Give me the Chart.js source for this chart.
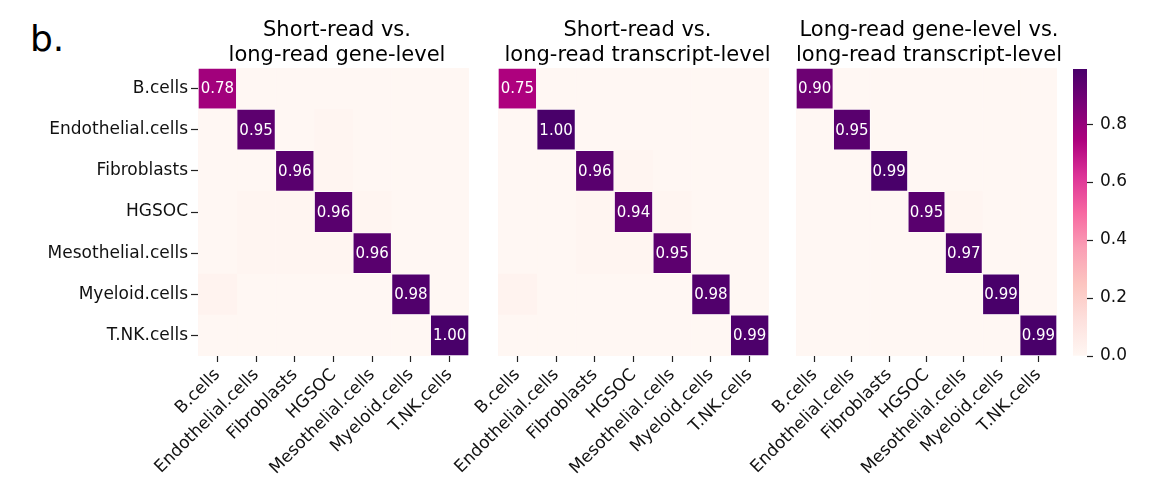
<!DOCTYPE html>
<html><head><meta charset="utf-8">
<script src="https://cdn.jsdelivr.net/npm/chart.js@4.4.1/dist/chart.umd.min.js"></script>
<style>
html,body{margin:0;padding:0;background:#fff;width:1153px;height:491px;overflow:hidden;position:relative;}
canvas{position:absolute;top:0;}
#lbl{position:absolute;left:30px;top:21px;font:36px/36px 'DejaVu Sans';color:#000;}
</style></head><body>
<div id="lbl">b.</div>
<canvas id="c1"></canvas>
<canvas id="c2"></canvas>
<canvas id="c3"></canvas>
<canvas id="cb"></canvas>
<script>
// ---- data ----
const categories = ['B.cells','Endothelial.cells','Fibroblasts','HGSOC','Mesothelial.cells','Myeloid.cells','T.NK.cells'];
const titles1 = ['Short-read vs.','long-read gene-level'];
const titles2 = ['Short-read vs.','long-read transcript-level'];
const titles3 = ['Long-read gene-level vs.','long-read transcript-level'];
const matrix1 = [
  [0.78,0.00,0.00,0.00,0.00,0.00,0.00],
  [0.00,0.95,0.00,0.01,0.00,0.00,0.00],
  [0.00,0.00,0.96,0.01,0.00,0.00,0.00],
  [0.00,0.01,0.01,0.96,0.01,0.00,0.00],
  [0.00,0.01,0.01,0.01,0.96,0.00,0.00],
  [0.02,0.00,0.00,0.00,0.00,0.98,0.00],
  [0.00,0.00,0.00,0.00,0.00,0.00,1.00]
];
const matrix2 = [
  [0.75,0.00,0.00,0.00,0.00,0.00,0.00],
  [0.00,1.00,0.00,0.00,0.00,0.00,0.00],
  [0.00,0.00,0.96,0.01,0.00,0.00,0.00],
  [0.00,0.00,0.01,0.94,0.01,0.00,0.00],
  [0.00,0.00,0.01,0.01,0.95,0.00,0.00],
  [0.02,0.00,0.00,0.00,0.00,0.98,0.00],
  [0.00,0.00,0.00,0.00,0.00,0.00,0.99]
];
const matrix3 = [
  [0.90,0.00,0.00,0.00,0.00,0.00,0.00],
  [0.00,0.95,0.00,0.00,0.00,0.00,0.00],
  [0.00,0.00,0.99,0.00,0.00,0.00,0.00],
  [0.00,0.00,0.00,0.95,0.01,0.00,0.00],
  [0.00,0.00,0.00,0.00,0.97,0.00,0.00],
  [0.00,0.00,0.00,0.00,0.00,0.99,0.00],
  [0.00,0.00,0.00,0.00,0.00,0.00,0.99]
];
const colorbarTicks = [0.0,0.2,0.4,0.6,0.8];
const rdpu = ['#fff7f3','#fde0dd','#fcc5c0','#fa9fb5','#f768a1','#dd3497','#ae017e','#7a0177','#49006a'];

// ---- helpers ----
const FONT = "'DejaVu Sans'";
function hex(c){return [parseInt(c.slice(1,3),16),parseInt(c.slice(3,5),16),parseInt(c.slice(5,7),16)];}
function cmap(t){
  t=Math.max(0,Math.min(1,t));
  const p=t*(rdpu.length-1), i=Math.min(Math.floor(p),rdpu.length-2), f=p-i;
  const a=hex(rdpu[i]), b=hex(rdpu[i+1]);
  return 'rgb('+a.map((v,k)=>Math.round(v+(b[k]-v)*f)).join(',')+')';
}
function setCanvas(id,left,width){
  const c=document.getElementById(id);
  c.width=width; c.height=491; c.style.left=left+'px'; c.style.width=width+'px'; c.style.height='491px';
  return c;
}
const annotPlugin = {
  id:'annot',
  afterDatasetsDraw(chart){
    const M = chart.options.plugins.annot.matrix;
    const ctx = chart.ctx;
    ctx.save();
    ctx.fillStyle='#ffffff';
    ctx.font="15px "+FONT;
    ctx.textAlign='center'; ctx.textBaseline='middle';
    for(let j=0;j<M.length;j++){
      const el = chart.getDatasetMeta(j).data[j];
      ctx.fillText(M[j][j].toFixed(2),(el.x+el.base)/2, el.y+1);
    }
    ctx.restore();
  }
};

function heatmap(id, left, width, yAxisW, rightW, matrix, title, showY){
  const c=setCanvas(id,left,width);
  const vmax=Math.max(...matrix.flat());
  const datasets = categories.map((_,j)=>{
    const fills = categories.map((_,i)=>cmap(matrix[i][j]/vmax));
    return {
      data: categories.map(()=>[j,j+1]),
      backgroundColor: fills,
      borderColor: fills.map((f,i)=> i===j ? 'rgba(255,255,255,0.45)' : f),
      borderWidth:1,
      borderSkipped:false,
      barPercentage:1, categoryPercentage:1, grouped:false
    };
  });
  return new Chart(c,{
    type:'bar',
    data:{labels:categories, datasets},
    plugins:[annotPlugin],
    options:{
      indexAxis:'y', responsive:false, animation:false, devicePixelRatio:1,
      layout:{padding:0},
      plugins:{
        legend:{display:false}, tooltip:{enabled:false},
        title:{display:true,text:title,color:'#000',font:{family:FONT,size:21,lineHeight:25/21,weight:'normal'},padding:{top:18,bottom:0}},
        annot:{matrix}
      },
      scales:{
        x:{type:'linear',min:0,max:categories.length,position:'bottom',
          afterBuildTicks:s=>{s.ticks=categories.map((_,j)=>({value:j+0.5}));},
          afterFit:s=>{s.height=135;},
          ticks:{autoSkip:false,minRotation:45,maxRotation:45,padding:3,color:'#111',font:{family:FONT,size:17},
            callback:(v,i)=>categories[i]},
          grid:{display:true,drawOnChartArea:false,drawTicks:true,tickLength:6,tickColor:'#222',tickWidth:1.2,offset:false},
          border:{display:false}
        },
        y:{type:'category',position:'left',offset:true,
          afterFit:s=>{s.width=yAxisW;},
          ticks:{display:showY,padding:3,color:'#111',font:{family:FONT,size:17}},
          grid:{display:showY,drawOnChartArea:false,drawTicks:true,tickLength:7,tickColor:'#222',tickWidth:1.2,offset:false},
          border:{display:false}
        },
        yR:{type:'category',position:'right',display:true,
          afterFit:s=>{s.width=rightW;},
          ticks:{display:false},grid:{display:false},border:{display:false}
        }
      }
    }
  });
}

heatmap('c1',0,674,198,205,matrix1,titles1,true);
heatmap('c2',440,395,58,66,matrix2,titles2,false);
heatmap('c3',740,378,56,61,matrix3,titles3,false);

// ---- colorbar ----
const cbMax=Math.max(...matrix3.flat());
const cbc=setCanvas('cb',1040,113);
new Chart(cbc,{
  type:'bar',
  data:{labels:[''],datasets:[{
    data:[[0,cbMax]],
    barPercentage:1,categoryPercentage:1,borderWidth:0,
    backgroundColor:(ctx)=>{
      const ch=ctx.chart; if(!ch.chartArea) return rdpu[0];
      const y0=ch.scales.y.getPixelForValue(0), y1=ch.scales.y.getPixelForValue(cbMax);
      const g=ch.ctx.createLinearGradient(0,y0,0,y1);
      rdpu.forEach((col,i)=>g.addColorStop(i/(rdpu.length-1),col));
      return g;
    }
  }]},
  options:{
    responsive:false,animation:false,devicePixelRatio:1,
    layout:{padding:{left:33,top:69,bottom:135,right:0}},
    plugins:{legend:{display:false},tooltip:{enabled:false},title:{display:false}},
    scales:{
      x:{display:false},
      y:{type:'linear',min:0,max:cbMax,position:'right',
        afterBuildTicks:s=>{s.ticks=colorbarTicks.map(v=>({value:v}));},
        afterFit:s=>{s.width=66;},
        ticks:{padding:7,color:'#111',font:{family:FONT,size:17},callback:v=>v.toFixed(1)},
        grid:{display:true,drawOnChartArea:false,drawTicks:true,tickLength:6,tickColor:'#222',tickWidth:1.2},
        border:{display:false}
      }
    }
  }
});
</script>
</body></html>
